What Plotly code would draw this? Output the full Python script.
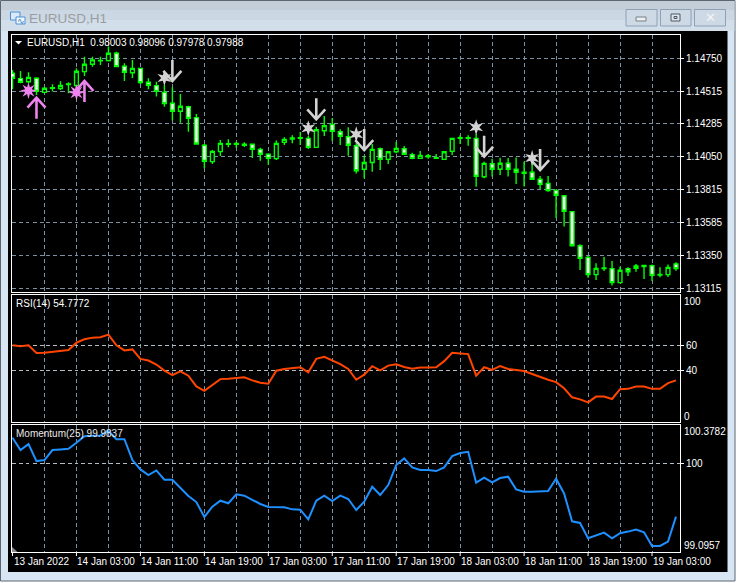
import math
import plotly.graph_objects as go

W, H = 737, 583

time_labels = ["13 Jan 2022", "14 Jan 03:00", "14 Jan 11:00", "14 Jan 19:00", "17 Jan 03:00", "17 Jan 11:00",
               "17 Jan 19:00", "18 Jan 03:00", "18 Jan 11:00", "18 Jan 19:00", "19 Jan 03:00"]
time_label_bars = [0, 8, 16, 24, 32, 40, 48, 56, 64, 72, 80]
grid_bars = list(range(4, 84, 4))

# prices in points (1e-5)
opens = [114645,114607,114585,114609,114509,114543,114536,114569,114557,114657,
114709,114733,114735,114787,114695,114649,114680,114581,114557,114509,
114431,114374,114407,114329,114132,114016,114087,114144,114146,114139,
114139,114103,114068,114037,114153,114177,114186,114181,114117,114236,
114281,114229,114193,114129,113961,114010,114108,114032,114086,114108,
114065,114039,114058,114044,114032,114089,114186,114186,114181,113908,
114001,113961,114004,113961,113940,113940,113890,113861,113811,113773,
113660,113417,113334,113211,113258,113254,113154,113254,113273,113277,
113275,113213,113211,113287]
closes = [114609,114581,114616,114516,114538,114538,114559,114564,114659,114709,
114740,114737,114787,114692,114652,114680,114578,114559,114516,114429,
114374,114410,114324,114141,114018,114089,114146,114139,114139,114132,
114103,114068,114039,114146,114174,114184,114181,114117,114243,114272,
114231,114196,114132,113951,114010,114103,114032,114086,114110,114068,
114039,114060,114051,114039,114086,114181,114181,114181,113911,114003,
113961,114004,113961,113940,113933,113890,113854,113809,113776,113662,
113417,113327,113211,113256,113254,113154,113242,113232,113256,113268,
113206,113208,113263,113254]
highs = [114668,114661,114652,114616,114545,114566,114588,114581,114680,114763,
114763,114763,114835,114799,114716,114740,114685,114609,114585,114562,
114545,114498,114414,114355,114141,114099,114170,114175,114158,114153,
114139,114115,114075,114167,114189,114203,114227,114198,114265,114340,
114326,114246,114260,114146,114058,114141,114117,114086,114155,114127,
114079,114091,114070,114070,114091,114186,114203,114203,114212,114015,
114037,114044,114042,114046,114016,114063,113914,113914,113819,113776,
113662,113427,113344,113292,113337,113308,113268,113263,113287,113280,
113284,113263,113284,113299]
lows = [114531,114573,114573,114490,114502,114516,114526,114502,114538,114626,
114692,114704,114728,114692,114590,114611,114566,114531,114479,114407,
114308,114293,114229,114141,113968,113999,114056,114118,114113,114120,
114041,114022,113994,114027,114134,114146,114134,114105,114115,114198,
114162,114134,114058,113932,113897,113944,113956,113999,114075,114063,
114032,114037,114037,114037,114032,114063,114141,114129,113837,113897,
113909,113921,113909,113857,113838,113885,113821,113802,113614,113553,
113417,113244,113189,113173,113237,113133,113154,113201,113232,113180,
113166,113192,113194,113239]

rsi = [60.2,59.4,60.2,54.1,54.3,55.1,55.9,56.5,62.3,65.0,66.3,66.6,68.7,60.2,56.2,57.0,49.5,48.2,45.0,40.2,
36.7,39.7,36.2,27.7,24.2,28.5,33.5,33.8,34.3,34.9,32.5,30.6,29.8,40.2,41.5,42.1,42.9,38.9,49.5,51.1,
48.5,45.3,41.5,33.0,37.0,43.7,40.5,44.2,45.3,43.1,41.8,42.6,42.6,42.9,47.7,54.3,53.8,53.3,36.2,42.9,
40.7,43.9,41.5,40.5,39.9,37.5,35.1,33.0,31.1,26.3,19.1,17.5,15.1,19.7,19.7,17.8,25.5,25.8,27.7,27.7,
25.8,25.8,30.3,32.5]

momentum = [100.249,100.130,100.188,100.023,100.033,100.130,100.136,100.143,100.201,100.265,100.269,100.272,
100.317,100.236,100.236,100.033,99.942,99.887,99.932,99.842,99.842,99.758,99.684,99.625,99.480,99.580,
99.638,99.613,99.700,99.687,99.645,99.606,99.577,99.577,99.574,99.554,99.551,99.457,99.638,99.687,
99.635,99.687,99.655,99.548,99.629,99.774,99.693,99.790,99.984,100.049,99.962,99.936,99.936,99.926,
99.962,100.071,100.101,100.113,99.813,99.861,99.816,99.858,99.871,99.748,99.726,99.726,99.726,99.732,
99.852,99.709,99.438,99.422,99.273,99.299,99.328,99.273,99.322,99.338,99.357,99.331,99.199,99.199,
99.241,99.483]

price_ticks = [114750, 114515, 114285, 114050, 113815, 113585, 113350, 113115]
price_labels = ["1.14750", "1.14515", "1.14285", "1.14050", "1.13815", "1.13585", "1.13350", "1.13115"]

up_star_bars = [2, 8]
up_star_prices = [114521, 114509]
up_arrow_bars = [3, 9]
up_arrow_prices = [114471, 114590]
down_star_bars = [19, 37, 43, 58, 65]
down_star_prices = [114611, 114253, 114210, 114260, 114041]
down_arrow_bars = [20, 38, 44, 59, 66]
down_arrow_prices = [114590, 114317, 114098, 114051, 113956]

bars = list(range(len(opens)))
FONT = "Liberation Sans"
GRID = "#7d8fa3"
GRID2 = "#b4bcc4"
BUY = "#ee82ee"
SELL = "#d3d3d3"

def px(x): return x / W
def py(y): return 1 - y / H

def rect(x0, y0, x1, y1, fill, line=None, lw=1):
    return dict(type="rect", xref="paper", yref="paper", x0=px(x0), x1=px(x1), y0=py(y1), y1=py(y0),
                fillcolor=fill, line=dict(color=line or fill, width=lw if line else 0), layer="below")

shapes = [
    rect(0.5, 0.5, 735, 581, "#d8e5f2", "#5c6670", 1),
    rect(1, 1, 734.5, 10, "#c3ced9"),
    rect(1, 10, 734.5, 20, "#cbd7e3"),
    rect(1, 20, 734.5, 31, "#d2dfeb"),
    rect(8, 31, 727.5, 572, "#000000"),
    # window buttons
    rect(626, 9.5, 657, 26, "#ced9e6", "#8ea0b4", 1),
    rect(660.5, 9.5, 691, 26, "#ced9e6", "#8ea0b4", 1),
    rect(694.5, 9.5, 725.5, 26, "#ced9e6", "#8ea0b4", 1),
    rect(636, 17, 646, 21, "#eeeeee", "#75808c", 1),
    rect(671, 14, 680, 21, "#dfe6ee", "#4d5863", 1),
    rect(674, 16.5, 677, 18.5, "#ced9e6", "#4d5863", 1),
    # window icon
    rect(10.5, 12, 20, 20, "#dbe9f8", "#4a90d8", 1),
    rect(16, 17, 25, 24, "#f4f8fc", "#4a90d8", 1),
]

def tri(a, b, c, fill):
    return dict(type="path", xref="paper", yref="paper",
                path=f"M{px(a[0])},{py(a[1])} L{px(b[0])},{py(b[1])} L{px(c[0])},{py(c[1])} Z",
                fillcolor=fill, line=dict(width=0))
shapes += [tri((15, 41), (22, 41), (18.5, 44.5), "#ffffff"),
           tri((12, 547), (17.5, 552), (12, 552), "#8c8c8c")]

# glyph shapes of fixed pixel size, anchored on data coordinates through the axes
def anchored(bar, price, path, color, width=0, fill=None):
    return dict(type="path", xref="x", yref="y", xsizemode="pixel", ysizemode="pixel",
                xanchor=bar, yanchor=price / 1e5, path=path,
                line=dict(color=color, width=width), fillcolor=fill or "rgba(0,0,0,0)", layer="above")

def star_path(points, outer, inner):
    pts = []
    for k in range(points * 2):
        r = outer if k % 2 == 0 else inner
        a = math.pi * k / points + math.pi / 2
        pts.append(f"{r * math.cos(a):.2f},{r * math.sin(a):.2f}")
    return "M" + " L".join(pts) + " Z"

def arrow_path(direction):
    # tip at the anchor; direction=+1 for an arrow pointing up, -1 for one pointing down
    return f"M0,0 L0,{-direction * 21} M-9,{-direction * 10} L0,0 L9,{-direction * 10}"

for b, p in zip(up_star_bars, up_star_prices):
    shapes.append(anchored(b, p, star_path(8, 8.5, 3.6), BUY, 0, BUY))
for b, p in zip(down_star_bars, down_star_prices):
    shapes.append(anchored(b, p, star_path(6, 8, 3.2), SELL, 0, SELL))
for b, p in zip(up_arrow_bars, up_arrow_prices):
    shapes.append(anchored(b, p, arrow_path(1), BUY, 2.6))
for b, p in zip(down_arrow_bars, down_arrow_prices):
    shapes.append(anchored(b, p, arrow_path(-1), SELL, 2.6))

XR = [-0.125, 83.5]
xbase = dict(range=XR, domain=[px(11.5), px(680)], showgrid=True, gridcolor=GRID, griddash="4px,3px", gridwidth=1,
             tickmode="array", tickvals=grid_bars, ticks="", showticklabels=False, zeroline=False,
             showline=True, mirror=True, linecolor="#ffffff", linewidth=1, rangeslider=dict(visible=False),
             fixedrange=True)
ybase = dict(side="right", showgrid=True, griddash="4px,3px", gridwidth=1, zeroline=False,
             showline=True, mirror=True, linecolor="#ffffff", linewidth=1, ticks="outside", ticklen=3,
             tickcolor="#ffffff", tickfont=dict(family=FONT, size=10, color="#ffffff"), fixedrange=True,
             tickmode="array")

fig = go.Figure()
fig.add_trace(go.Candlestick(
    x=bars, open=[v / 1e5 for v in opens], high=[v / 1e5 for v in highs], low=[v / 1e5 for v in lows],
    close=[v / 1e5 for v in closes], whiskerwidth=0,
    increasing=dict(line=dict(color="#00ff00", width=1.4), fillcolor="#000000"),
    decreasing=dict(line=dict(color="#00ff00", width=1.4), fillcolor="#ffffff"),
    xaxis="x", yaxis="y", showlegend=False))

fig.add_trace(go.Scatter(x=bars, y=rsi, mode="lines", line=dict(color="#ff4500", width=2), xaxis="x2", yaxis="y2"))
fig.add_trace(go.Scatter(x=bars, y=momentum, mode="lines", line=dict(color="#1e90ff", width=2), xaxis="x3", yaxis="y3"))

annotations = []
def label(text, x, y, color="#ffffff", size=10, anchor="left", family=FONT):
    annotations.append(dict(text=text, xref="paper", yref="paper", x=px(x), y=py(y), xanchor=anchor, yanchor="middle",
                            showarrow=False, font=dict(family=family, size=size, color=color), borderpad=0, borderwidth=0))

label("EURUSD,H1  0.98003 0.98096 0.97978 0.97988", 27, 42.5)
label("RSI(14) 54.7772", 16, 303.5)
label("Momentum(25) 99.9837", 16, 433.5, color="#e8e8e8")
label("100", 684, 301)
label("0", 684, 416)
label("100.3782", 684, 431.5)
label("99.0957", 684, 545.5)
label("EURUSD,H1", 29, 18.5, color="#9a9ca0", size=13.5)
label("✕", 710, 17.5, color="#f4f4f4", size=13, anchor="center", family="DejaVu Sans")
label("∿", 20.5, 20.5, color="#2f7fd0", size=9, anchor="center", family="DejaVu Sans")
for b, t in zip(time_label_bars, time_labels):
    annotations.append(dict(text=t, xref="x3", yref="paper", x=b, y=py(561.5), xanchor="left", yanchor="middle",
                            xshift=-1, showarrow=False, font=dict(family=FONT, size=10, color="#ffffff")))

shapes += [dict(type="line", xref="x3", yref="paper", x0=b, x1=b, y0=py(552.5), y1=py(556), line=dict(color="#ffffff", width=1))
           for b in time_label_bars]

fig.update_layout(
    width=W, height=H, margin=dict(l=0, r=0, t=0, b=0, autoexpand=False), paper_bgcolor="#ffffff", plot_bgcolor="#000000",
    showlegend=False, boxgap=0.32, shapes=shapes, annotations=annotations,
    xaxis=dict(xbase, anchor="y"),
    xaxis2=dict(xbase, anchor="y2"),
    xaxis3=dict(xbase, anchor="y3"),
    yaxis=dict(ybase, domain=[py(291.5), py(34.5)], range=[1.13091, 1.14921], anchor="x", gridcolor=GRID,
               tickvals=[v / 1e5 for v in price_ticks], ticktext=price_labels),
    yaxis2=dict(ybase, domain=[py(421.5), py(295)], range=[0, 100], anchor="x2", gridcolor=GRID2,
                tickvals=[40, 60], ticktext=["40", "60"]),
    yaxis3=dict(ybase, domain=[py(552.3), py(424.5)], range=[99.137, 100.3782], anchor="x3", gridcolor=GRID2,
                tickvals=[100], ticktext=["100"]),
)
fig.write_html("out.html", config=dict(displayModeBar=False),
               post_script="document.body.style.margin='0';document.body.style.overflow='hidden';")
